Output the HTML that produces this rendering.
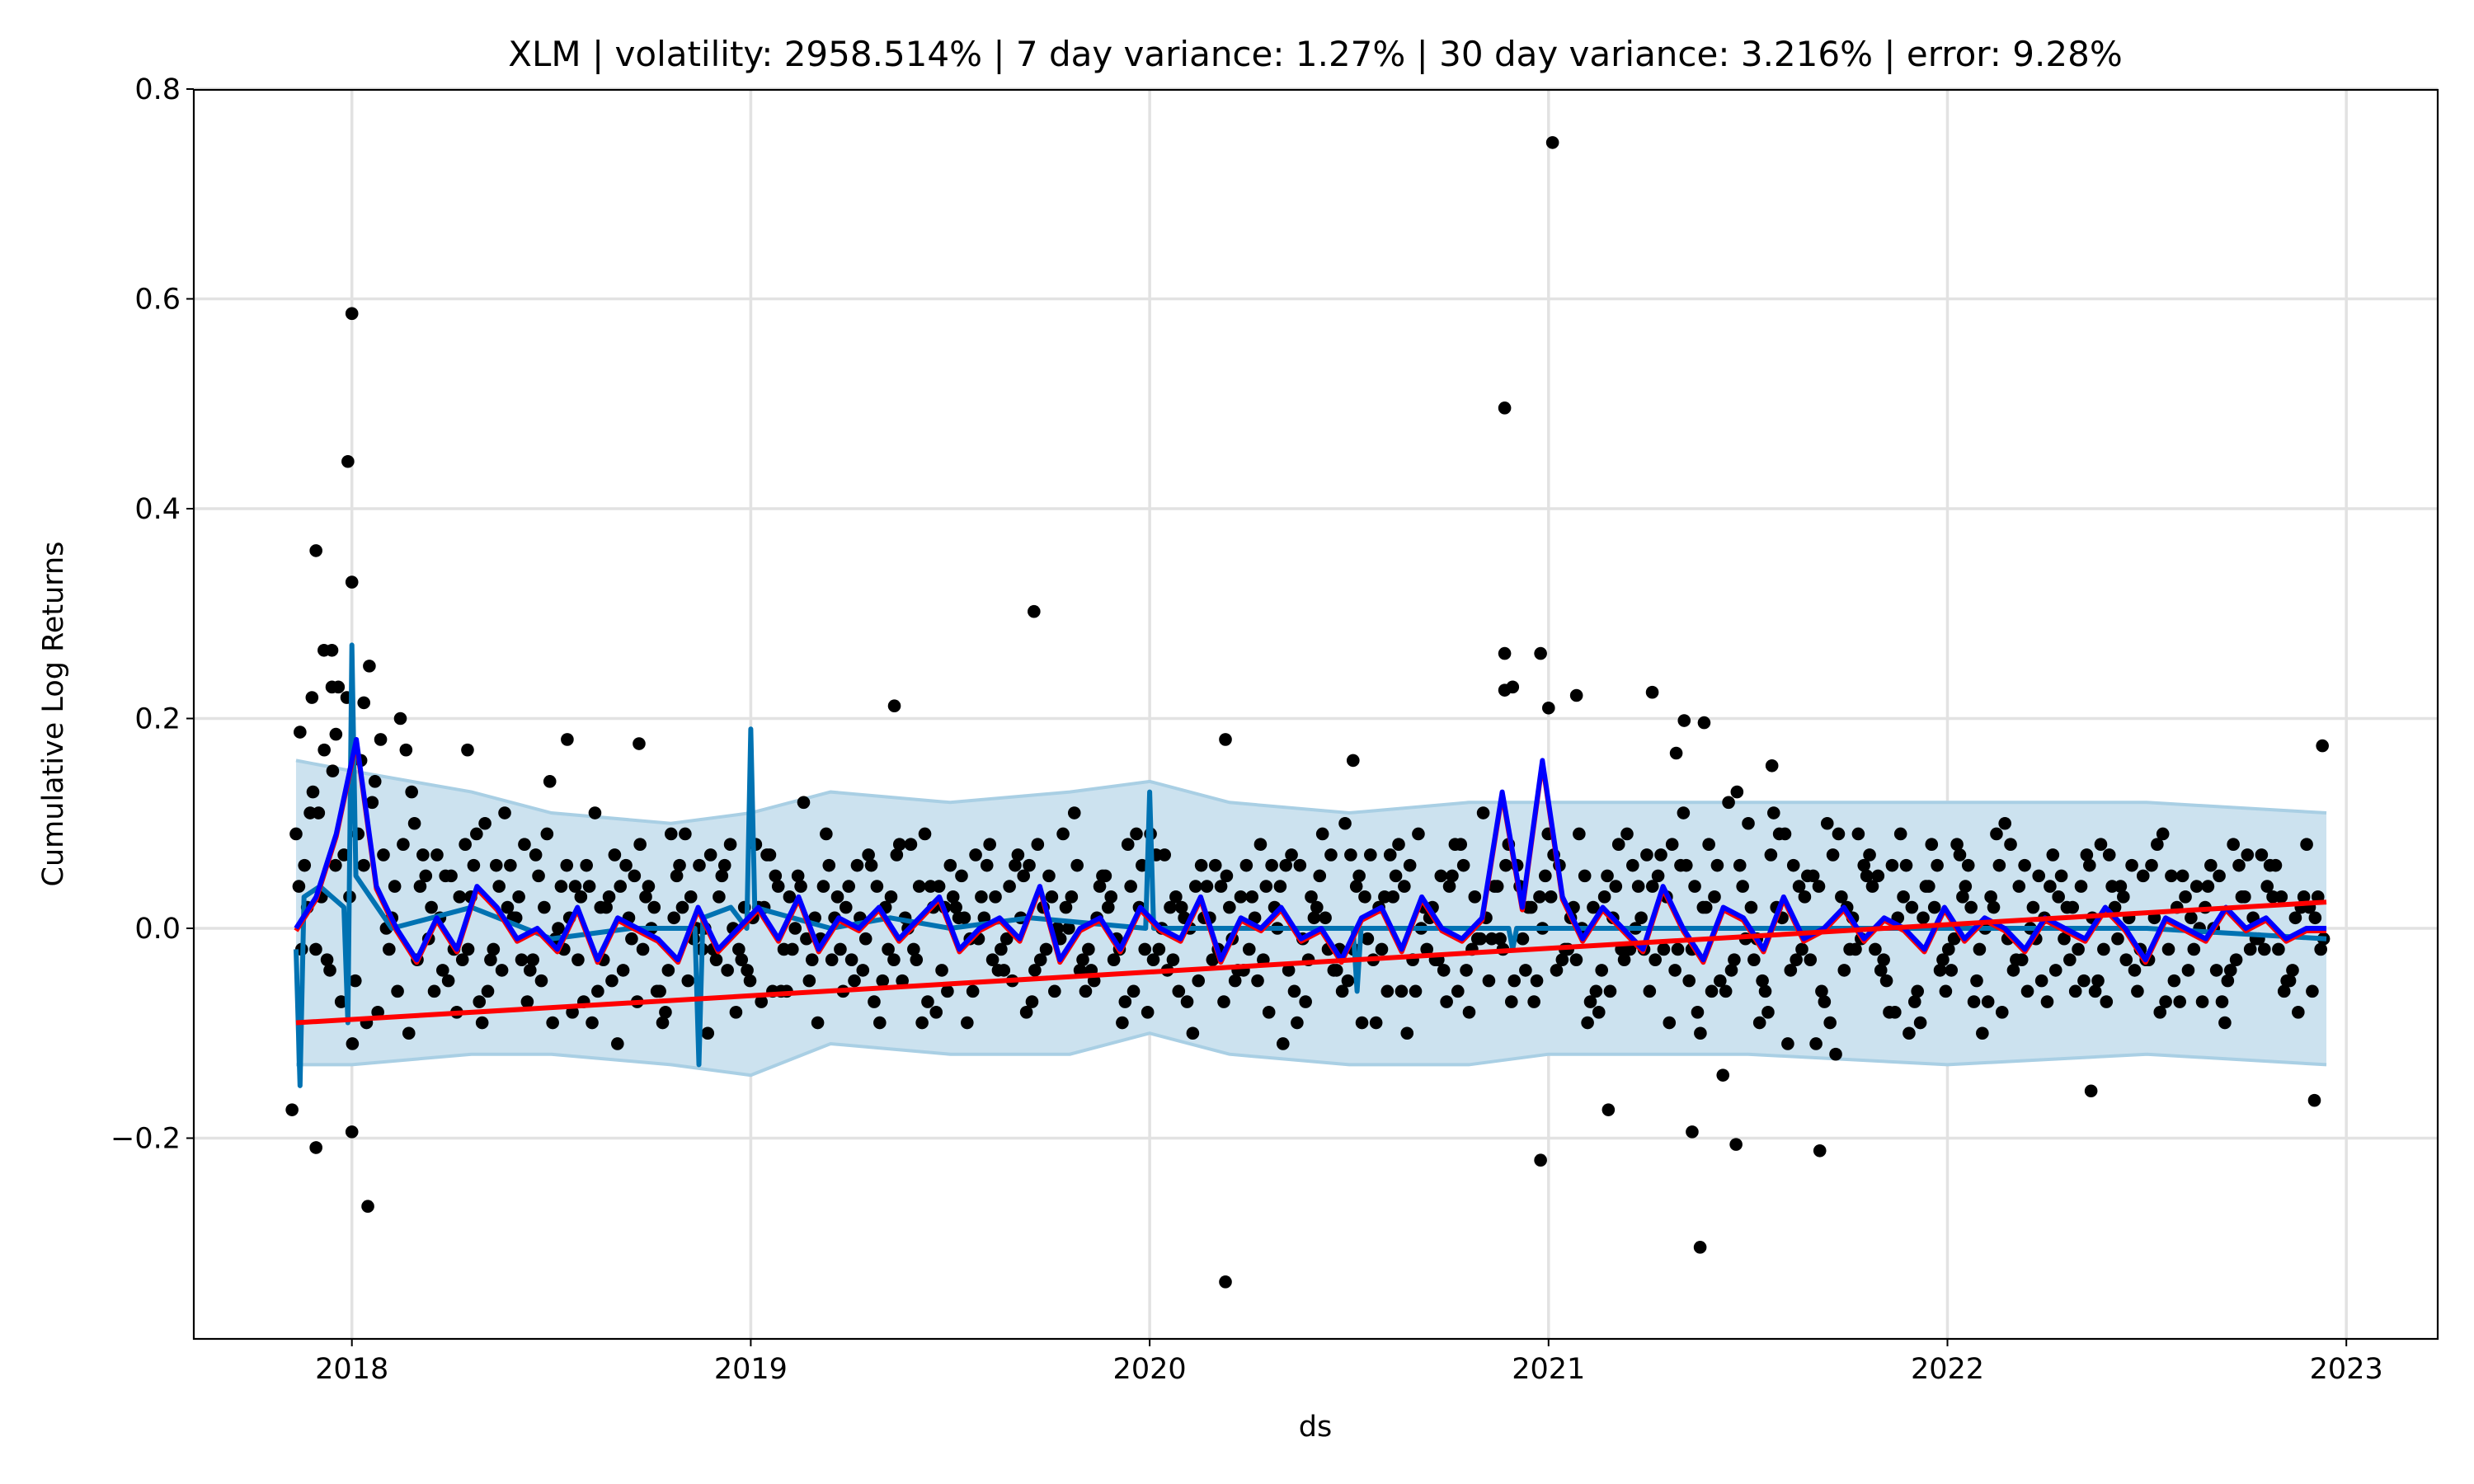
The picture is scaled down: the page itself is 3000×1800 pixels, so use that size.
<!DOCTYPE html>
<html><head><meta charset="utf-8"><style>
html,body{margin:0;padding:0;background:#fff}
svg{display:block;font-family:"DejaVu Sans","Liberation Sans",sans-serif}
</style></head><body>
<svg id="chart" width="3000" height="1800" viewBox="0 0 3000 1800">
<rect x="0" y="0" width="3000" height="1800" fill="#fff"/>
<g id="grid"></g>
<g id="band"></g>
<g id="dots"></g>
<g id="lines"></g>
<rect x="235" y="109" width="2721" height="1515" fill="none" stroke="#000" stroke-width="2.2"/>
<g id="axes"></g>
<text x="1595" y="80" font-size="42" text-anchor="middle">XLM | volatility: 2958.514% | 7 day variance: 1.27% | 30 day variance: 3.216% | error: 9.28%</text>
<text x="1595" y="1742" font-size="35" text-anchor="middle">ds</text>
<text transform="translate(76,866) rotate(-90)" font-size="35" text-anchor="middle">Cumulative Log Returns</text>
</svg>
<script>
const xTicks=[2018,2019,2020,2021,2022,2023];
const yTicks=[-0.2,0,0.2,0.4,0.6,0.8];
const yTickLabels=["\u22120.2","0.0","0.2","0.4","0.6","0.8"];
const tStart=2017.86, tEnd=2022.95;
const obsA=[90,130,-40,220,60,180,-60,100,20,-50,80,-90,40,10,-30,140,60,-70,20,-110,50,0,-40,90,-20,30,-80,10,70,-60,120,-10,30,-50,60,-20,10,-90,40,20,-60,80,-10,50,-30,0,110,-40,20,-70,60,-20,30,-100,10,50,-40,80,0,-60,30,-20,100,-90,20,50,-30,10,-70,60,-10,40,-50,20,90,-20,0,-80,40,60,-60,30,110,-100,60,-30,20,-80,90,-20,40,-120,10,70,-50,30,-90,60,-10,20,-70,100,-30,50,-40,20,60,-70,30,-20,80,-50,10,40,-90,30,-10,60,-40,20];
const obsB=[40,-20,150,30,-90,70,200,-30,-60,50,-20,100,-40,30,70,-90,10,60,-30,40,-70,20,90,-50,0,50,-20,80,-60,30,-10,40,-20,60,-70,30,0,90,-40,10,70,-30,40,-80,20,-10,60,-50,30,80,-20,0,-60,40,-30,20,60,-30,40,-90,10,70,-50,30,-20,80,-60,20,40,-40,110,-10,60,-70,30,-20,50,-40,80,0,40,-90,60,20,-50,130,-30,70,-110,30,-60,90,-20,40,-80,60,10,-40,80,-70,30,-10,60,-50,30,-60,10,70,-30,50,-80,20,-20,60,-50,30,70,-20,10,-60];
const obsC=[-20,110,60,-110,250,0,80,40,70,-20,30,-60,110,-30,50,-10,-80,40,20,-40,80,-60,10,30,-100,60,-30,20,50,-20,-50,90,-60,10,40,-30,80,-70,20,50,-10,30,-50,60,-20,90,-40,10,-30,40,-80,70,20,-50,60,-10,-20,40,-110,60,20,-40,70,-10,30,-60,90,-30,50,-80,10,-20,40,-50,70,10,-90,30,-20,40,-30,80,-50,20,-140,60,-10,110,-40,50,-70,30,90,-20,60,-100,40,-30,70,-50,20,80,-60,10,50,-20,-60,40,10,-30,90,-70,40,0,-40,70,-20,30,-80,10];
const obsD=[60,30,230,-50,120,-20,170,70,10,-80,60,-30,20,80,-50,0,40,-90,30,60,-20,-60,50,-10,70,-40,20,-70,40,0,-30,60,20,-40,-90,70,-20,40,-60,10,30,-40,60,-70,50,20,-30,40,-10,-60,90,-40,10,60,-20,-50,30,-80,60,-10,50,-40,-20,70,-60,40,0,-30,80,-20,-50,60,-10,30,-40,20,-70,50,-30,10,50,-40,-20,80,-60,40,-90,20,60,-30,100,-40,-10,50,-80,20,40,-60,30,-20,90,-40,0,-70,-10,40,-50,20,60,-30,-70,50,0,-40,80,-20,40,-60,20,30];
const obsE=[20,170,-70,90,140,10,-100,50,-40,30,90,-20,60,-70,20,40,-30,110,-50,10,30,-90,60,0,-20,80,-40,20,-60,50,10,-30,40,-10,-50,80,-30,20,60,-90,10,-20,70,-40,30,0,-60,50,-20,90,-30,20,-70,10,40,-40,10,60,-40,-70,90,-20,40,-30,70,-100,20,50,-60,30,-10,80,-40,0,60,-30,20,-60,90,-20,70,-20,40,-60,120,-10,-50,90,-30,50,-90,20,60,-40,10,-70,80,-20,40,-100,60,-30,20,40,20,-50,80,-10,-40,60,-20,30,-70,50,-30,10,60,-50,30,-20];
const obsF=[110,-30,70,160,-80,40,130,-10,50,-30,-70,60,10,-40,90,-20,30,-60,70,-10,40,-80,20,60,-30,0,-50,70,-20,40,-90,10,-30,70,20,-50,40,-80,30,-10,60,-40,10,80,-60,30,-20,50,-90,20,70,-30,0,40,-70,30,-50,20,70,-30,10,-60,50,-90,30,60,-20,-40,80,-10,40,-70,20,50,-30,90,-60,10,-20,70,-20,60,-80,30,-40,100,-60,10,40,-110,70,-20,50,-30,90,-60,20,-40,60,0,-80,40,-10,70,-30,70,-20,40,-60,10,50,-40,20,-70,60,-10,30,-50,80,-10];
const outlierDates=[2018.0,2017.99,2018.0,2017.91,2017.93,2017.95,2018.03,2017.95,2017.9,2017.96,2017.87,2017.85,2017.91,2018.04,2018.0,2019.71,2019.36,2020.19,2020.19,2020.89,2021.01,2020.89,2020.98,2020.89,2020.91,2021.0,2021.07,2020.98,2021.26,2021.34,2021.39,2021.38,2021.36,2021.47,2021.68,2021.56,2021.32,2021.15,2022.94,2022.92,2022.36,2020.51,2018.54,2018.72,2018.29];
const outlierValues=[0.586,0.445,0.33,0.36,0.265,0.265,0.215,0.23,0.22,0.185,0.187,-0.173,-0.209,-0.265,-0.194,0.302,0.212,0.18,-0.337,0.496,0.749,0.262,0.262,0.227,0.23,0.21,0.222,-0.221,0.225,0.198,0.196,-0.304,-0.194,-0.206,-0.212,0.155,0.167,-0.173,0.174,-0.164,-0.155,0.16,0.18,0.176,0.17];
const bandDates=[2017.86,2018.0,2018.3,2018.5,2018.8,2019.0,2019.2,2019.5,2019.8,2020.0,2020.2,2020.5,2020.8,2021.0,2021.5,2022.0,2022.5,2022.95];
const bandUpper=[0.16,0.15,0.13,0.11,0.10,0.11,0.13,0.12,0.13,0.14,0.12,0.11,0.12,0.12,0.12,0.12,0.12,0.11];
const bandLower=[-0.13,-0.13,-0.12,-0.12,-0.13,-0.14,-0.11,-0.12,-0.12,-0.10,-0.12,-0.13,-0.13,-0.12,-0.12,-0.13,-0.12,-0.13];
const fcDates=[2017.86,2017.87,2017.88,2017.92,2017.95,2017.98,2017.99,2018.0,2018.01,2018.1,2018.3,2018.5,2018.7,2018.86,2018.87,2018.88,2018.95,2018.99,2019.0,2019.01,2019.2,2019.35,2019.5,2019.7,2019.99,2020.0,2020.01,2020.3,2020.51,2020.52,2020.53,2020.9,2020.91,2020.92,2021.5,2022.0,2022.5,2022.95];
const fcValues=[-0.02,-0.15,0.03,0.04,0.03,0.02,-0.09,0.27,0.05,0.0,0.02,-0.01,0.0,0.0,-0.13,0.01,0.02,0.0,0.19,0.02,0.0,0.01,0.0,0.01,0.0,0.13,0.0,0.0,0.0,-0.06,0.0,0.0,-0.02,0.0,0.0,0.0,0.0,-0.01];
const blueValues=[0.0,0.03,0.09,0.18,0.04,0.0,-0.03,0.01,-0.02,0.04,0.02,-0.01,0.0,-0.02,0.02,-0.03,0.01,0.0,-0.01,-0.03,0.02,-0.02,0.0,0.02,-0.01,0.03,-0.02,0.01,0.0,0.02,-0.01,0.01,0.03,-0.02,0.0,0.01,-0.01,0.04,-0.03,0.0,0.01,-0.02,0.02,0.0,-0.01,0.03,-0.03,0.01,0.0,0.02,-0.01,0.0,-0.03,0.01,0.02,-0.02,0.03,0.0,-0.01,0.01,0.13,0.02,0.16,0.03,-0.01,0.02,0.0,-0.02,0.04,0.0,-0.03,0.02,0.01,-0.02,0.03,-0.01,0.0,0.02,-0.01,0.01,0.0,-0.02,0.02,-0.01,0.01,0.0,-0.02,0.01,0.0,-0.01,0.02,0.0,-0.03,0.01,0.0,-0.01,0.02,0.0,0.01,-0.01,0.0,0.0];
const trendDates=[2017.86,2022.95];
const trendValues=[-0.09,0.025];

const NS="http://www.w3.org/2000/svg";
const L=235,R=2956,T=109,B=1624;
function X(t){return 426.7+(t-2018)*483.7;}
function Y(v){return 1126-v*1272.5;}
function mk(tag,attrs,parent){const e=document.createElementNS(NS,tag);for(const k in attrs)e.setAttribute(k,attrs[k]);parent.appendChild(e);return e;}
const grid=document.getElementById('grid'),axes=document.getElementById('axes');
xTicks.forEach(t=>{
  const gl=mk('line',{x1:X(t),x2:X(t),y1:T,y2:B,stroke:'#e2e2e2','stroke-width':3.5},grid);
  
  
  const tk=mk('line',{x1:X(t),x2:X(t),y1:B,y2:B+9,stroke:'#000','stroke-width':2},axes);
  
  
  const tx=mk('text',{x:X(t),y:B+48,'font-size':35,'text-anchor':'middle'},axes);
  tx.textContent=String(t);
  
  
});
yTicks.forEach((v,i)=>{
  const gl=mk('line',{x1:L,x2:R,y1:Y(v),y2:Y(v),stroke:'#e2e2e2','stroke-width':3.5},grid);
  
  
  const tk=mk('line',{x1:L-9,x2:L,y1:Y(v),y2:Y(v),stroke:'#000','stroke-width':2},axes);
  
  
  const tx=mk('text',{x:L-16,y:Y(v)+12,'font-size':35,'text-anchor':'end'},axes);
  tx.textContent=yTickLabels[i];
  
  
});
const band=document.getElementById('band');
let up=bandDates.map((t,i)=>X(t)+','+Y(bandUpper[i]));
let lo=bandDates.map((t,i)=>X(t)+','+Y(bandLower[i])).reverse();
const bp=mk('polygon',{points:up.concat(lo).join(' '),fill:'#cce2ef',stroke:'none'},band);


const bu=mk('polyline',{points:up.join(' '),fill:'none',stroke:'#a9cfe4','stroke-width':4},band);


const bl=mk('polyline',{points:lo.join(' '),fill:'none',stroke:'#a9cfe4','stroke-width':4},band);


const dots=document.getElementById('dots');
[obsA,obsB,obsC,obsD,obsE,obsF].forEach((arr,k)=>{
  const n=arr.length;
  arr.forEach((v,i)=>{
    const t=tStart+(i+k/6)*(tEnd-tStart)/n;
    const c=mk('circle',{cx:X(t),cy:Y(v/1000),r:7.8,fill:'#000'},dots);
    
    
  });
});
outlierDates.forEach((t,i)=>{
  const c=mk('circle',{cx:X(t),cy:Y(outlierValues[i]),r:7.8,fill:'#000'},dots);
  
  
});
const lines=document.getElementById('lines');
const fc=mk('polyline',{points:fcDates.map((t,i)=>X(t)+','+Y(fcValues[i])).join(' '),fill:'none',stroke:'#0072b2','stroke-width':6,'stroke-linejoin':'round'},lines);


const nb=blueValues.length;
const bpts=blueValues.map((v,i)=>X(tStart+i*(tEnd-tStart)/(nb-1))+','+Y(v)).join(' ');
const rl=mk('polyline',{points:bpts,fill:'none',stroke:'#ff0000','stroke-width':6,'stroke-linejoin':'round',transform:'translate(0,3)'},lines);


const bl2=mk('polyline',{points:bpts,fill:'none',stroke:'#0000ff','stroke-width':6,'stroke-linejoin':'round'},lines);


const tr=mk('polyline',{points:trendDates.map((t,i)=>X(t)+','+Y(trendValues[i])).join(' '),fill:'none',stroke:'#ff0000','stroke-width':6},lines);


</script>
</body></html>
